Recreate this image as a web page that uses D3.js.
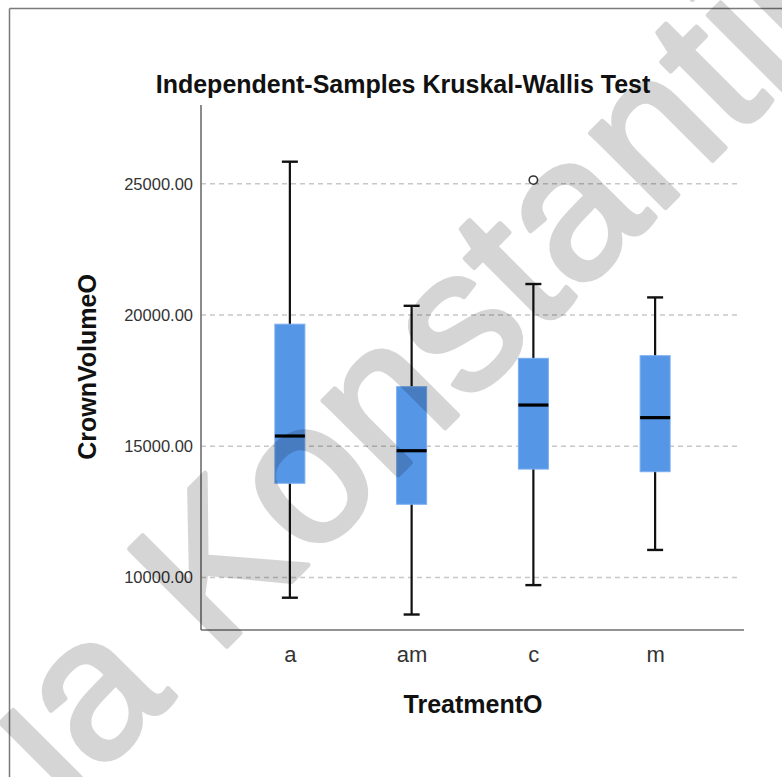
<!DOCTYPE html>
<html>
<head>
<meta charset="utf-8">
<script src="https://cdn.jsdelivr.net/npm/d3@7"></script>
<style>
  html, body { margin: 0; padding: 0; background: #fff; }
  svg { display: block; }
  text { font-family: "Liberation Sans", Arial, sans-serif; }
</style>
</head>
<body>
<svg id="chart" width="782" height="777"></svg>
<script>
// ---- data ----
const categories   = ["a", "am", "c", "m"];
const whiskerLow   = [9230, 8590, 9710, 11050];
const q1           = [13590, 12790, 14130, 14030];
const medians      = [15390, 14830, 16570, 16090];
const q3           = [19650, 17270, 18350, 18450];
const whiskerHigh  = [25840, 20350, 21180, 20670];
const outlierCats  = ["c"];
const outlierVals  = [25140];
const yTicks       = [10000, 15000, 20000, 25000];
const yDomain      = [8000, 28000];
const titleText    = "Independent-Samples Kruskal-Wallis Test";
const xTitle       = "TreatmentO";
const yTitle       = "CrownVolumeO";
const watermark    = "ia Konstantin";

const svg = d3.select("#chart");
const W = 782, H = 777;
const plot = { left: 201, right: 744, top: 105, bottom: 630 };

// outer frame
svg.append("line").attr("x1", 9.5).attr("y1", 8.5).attr("x2", W).attr("y2", 8.5)
  .attr("stroke", "#7a7a7a").attr("stroke-width", 1.5);
svg.append("line").attr("x1", 9.5).attr("y1", 8.5).attr("x2", 9.5).attr("y2", H)
  .attr("stroke", "#7a7a7a").attr("stroke-width", 1.5);

const x = d3.scalePoint().domain(categories).range([plot.left, plot.right]).padding(0.73);
const y = d3.scaleLinear().domain(yDomain).range([plot.bottom, plot.top]);

// gridlines
svg.append("g").selectAll("line").data(yTicks).join("line")
  .attr("x1", plot.left).attr("x2", 740)
  .attr("y1", d => y(d)).attr("y2", d => y(d))
  .attr("stroke", "#c8c8c8").attr("stroke-width", 1.5)
  .attr("stroke-dasharray", "5,4");

// y axis labels
const yAxis = d3.axisLeft(y).tickValues(yTicks).tickFormat(d3.format(".2f")).tickSize(0).tickPadding(8);
const gy = svg.append("g").attr("transform", `translate(${plot.left},0)`).call(yAxis);
gy.select(".domain").remove();
gy.selectAll("text").attr("font-size", 16.5).attr("fill", "#333")
  .style("font-family", '"Liberation Sans", Arial, sans-serif');

// x axis labels
const xAxis = d3.axisBottom(x).tickSize(0).tickPadding(16);
const gx = svg.append("g").attr("transform", `translate(0,${plot.bottom})`).call(xAxis);
gx.select(".domain").remove();
gx.selectAll("text").attr("font-size", 22).attr("fill", "#333")
  .style("font-family", '"Liberation Sans", Arial, sans-serif');

// axis lines
svg.append("line").attr("x1", plot.left).attr("x2", plot.left).attr("y1", plot.top).attr("y2", plot.bottom)
  .attr("stroke", "#6e6e6e").attr("stroke-width", 1.6);
svg.append("line").attr("x1", plot.left).attr("x2", plot.right).attr("y1", plot.bottom).attr("y2", plot.bottom)
  .attr("stroke", "#6e6e6e").attr("stroke-width", 1.6);

// boxes
const data = categories.map((c, i) => ({
  c, lo: whiskerLow[i], q1: q1[i], med: medians[i], q3: q3[i], hi: whiskerHigh[i]
}));
const boxW = 30, capW = 16;
const g = svg.append("g");
const bx = g.selectAll("g.box").data(data).join("g").attr("class", "box");
bx.append("line").attr("x1", d => x(d.c)).attr("x2", d => x(d.c))
  .attr("y1", d => y(d.hi)).attr("y2", d => y(d.lo))
  .attr("stroke", "#111").attr("stroke-width", 2.2);
bx.append("line").attr("x1", d => x(d.c) - capW / 2).attr("x2", d => x(d.c) + capW / 2)
  .attr("y1", d => y(d.hi)).attr("y2", d => y(d.hi))
  .attr("stroke", "#111").attr("stroke-width", 2.4);
bx.append("line").attr("x1", d => x(d.c) - capW / 2).attr("x2", d => x(d.c) + capW / 2)
  .attr("y1", d => y(d.lo)).attr("y2", d => y(d.lo))
  .attr("stroke", "#111").attr("stroke-width", 2.4);
bx.append("rect").attr("x", d => x(d.c) - boxW / 2).attr("width", boxW)
  .attr("y", d => y(d.q3)).attr("height", d => y(d.q1) - y(d.q3))
  .attr("fill", "#5596e6").attr("stroke", "#7aaef0").attr("stroke-width", 1);
bx.append("line").attr("x1", d => x(d.c) - boxW / 2).attr("x2", d => x(d.c) + boxW / 2)
  .attr("y1", d => y(d.med)).attr("y2", d => y(d.med))
  .attr("stroke", "#000").attr("stroke-width", 3.2);

// outliers
g.selectAll("circle.out").data(outlierCats.map((c, i) => ({ c, v: outlierVals[i] }))).join("circle")
  .attr("class", "out")
  .attr("cx", d => x(d.c)).attr("cy", d => y(d.v)).attr("r", 4.2)
  .attr("fill", "#fff").attr("stroke", "#333").attr("stroke-width", 1.5);

// titles
svg.append("text").attr("x", 403).attr("y", 93).attr("text-anchor", "middle")
  .attr("font-size", 25).attr("font-weight", "bold").attr("fill", "#111").text(titleText);
svg.append("text").attr("x", 473).attr("y", 713).attr("text-anchor", "middle")
  .attr("font-size", 25).attr("font-weight", "bold").attr("fill", "#111").text(xTitle);
svg.append("text").attr("transform", "translate(96,367) rotate(-90)").attr("text-anchor", "middle")
  .attr("font-size", 25).attr("font-weight", "bold").attr("fill", "#111").text(yTitle);

// watermark (translucent overlay)
svg.append("g").attr("opacity", 0.16)
  .append("text").attr("transform", "translate(66,807) rotate(-45)")
  .attr("font-size", 200).attr("fill", "#000")
  .attr("stroke", "#000").attr("stroke-width", 5).attr("stroke-linejoin", "round")
  .text(watermark);
</script>
</body>
</html>
